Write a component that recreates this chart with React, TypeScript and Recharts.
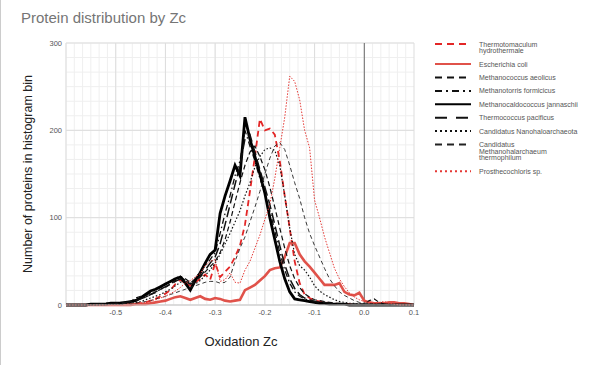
import {
  LineChart,
  Line,
  XAxis,
  YAxis,
  ReferenceLine,
} from 'recharts';

// histogram bins of Zc, step 0.01 from -0.60 to 0.10
const ZC_BINS = Array.from({ length: 71 }, (_, i) => Math.round((-0.6 + i * 0.01) * 100) / 100);

const X_TICKS = [-0.5, -0.4, -0.3, -0.2, -0.1, 0, 0.1];
const Y_TICKS = [0, 100, 200, 300];

// counts per bin (rows of 10 bins: -0.60, -0.50, ... , 0.00)
const thermotomaculum = [
  0, 0, 0, 0, 0, 0, 0, 0, 1, 1,
  1, 1, 1, 1, 2, 2, 3, 5, 7, 10,
  13, 17, 24, 29, 25, 22, 26, 30, 35, 29,
  48, 32, 38, 44, 55, 68, 92, 130, 170, 213,
  200, 202, 195, 165, 125, 88, 50, 25, 12, 8,
  5, 4, 3, 2, 2, 1, 1, 1, 0, 0,
  0, 0, 0, 0, 0, 0, 0, 0, 0, 0, 0,
];
const escherichia = [
  0, 0, 0, 0, 0, 0, 0, 0, 0, 0,
  0, 0, 0, 0, 1, 1, 1, 2, 3, 4,
  5, 7, 9, 10, 8, 6, 8, 10, 7, 6,
  8, 7, 5, 4, 5, 6, 17, 20, 23, 28,
  33, 40, 42, 43, 55, 71, 71, 58, 50, 44,
  37, 30, 23, 23, 23, 25, 15, 12, 11, 14,
  5, 3, 2, 2, 2, 3, 3, 2, 2, 1, 0,
];
const aeolicus = [
  0, 0, 0, 0, 0, 0, 1, 1, 2, 1,
  2, 3, 2, 4, 8, 10, 9, 12, 14, 18,
  20, 24, 28, 33, 30, 26, 28, 32, 38, 44,
  50, 60, 75, 95, 118, 140, 160, 175, 182, 170,
  155, 135, 112, 88, 65, 45, 30, 20, 13, 9,
  6, 5, 4, 3, 2, 2, 1, 1, 1, 1,
  1, 5, 7, 3, 1, 0, 0, 0, 0, 0, 0,
];
const formicicus = [
  0, 0, 0, 0, 0, 1, 1, 1, 2, 2,
  2, 3, 3, 4, 6, 8, 11, 14, 17, 20,
  23, 27, 31, 33, 28, 25, 30, 38, 45, 52,
  60, 82, 105, 125, 148, 165, 200, 182, 165, 145,
  128, 108, 85, 60, 40, 25, 15, 10, 7, 5,
  4, 3, 2, 2, 1, 1, 1, 0, 0, 0,
  0, 0, 0, 0, 0, 0, 0, 0, 0, 0, 0,
];
const jannaschii = [
  0, 0, 0, 0, 0, 1, 1, 1, 1, 2,
  2, 2, 3, 4, 5, 8, 12, 16, 18, 21,
  24, 27, 30, 32, 25, 17, 28, 37, 48, 58,
  63, 105, 125, 142, 160, 148, 215, 190, 170, 150,
  128, 100, 75, 50, 30, 15, 7, 6, 5, 4,
  3, 2, 2, 1, 1, 1, 1, 0, 0, 0,
  0, 0, 0, 0, 0, 0, 0, 0, 0, 0, 0,
];
const pacificus = [
  0, 0, 0, 0, 0, 0, 1, 1, 1, 1,
  2, 2, 3, 4, 5, 7, 9, 12, 15, 18,
  21, 24, 27, 30, 27, 24, 27, 33, 40, 48,
  55, 70, 92, 115, 138, 160, 190, 195, 175, 155,
  135, 115, 92, 68, 46, 30, 19, 12, 8, 6,
  4, 3, 3, 2, 2, 1, 1, 1, 0, 0,
  0, 0, 0, 0, 0, 0, 0, 0, 0, 0, 0,
];
const nanohaloarchaeota = [
  0, 0, 0, 0, 0, 0, 0, 0, 1, 1,
  1, 1, 2, 2, 3, 4, 6, 8, 10, 12,
  15, 18, 22, 26, 28, 25, 24, 28, 34, 40,
  48, 58, 70, 82, 95, 108, 125, 140, 158, 170,
  178, 180, 177, 160, 125, 88, 58, 45, 40, 32,
  22, 16, 12, 9, 6, 4, 3, 2, 2, 1,
  1, 1, 1, 0, 0, 0, 0, 0, 0, 0, 0,
];
const methanohalarchaeum = [
  0, 0, 0, 0, 0, 0, 0, 1, 0, 1,
  1, 1, 2, 1, 2, 3, 4, 5, 7, 8,
  10, 12, 14, 16, 18, 20, 22, 24, 26, 27,
  27, 25, 26, 32, 50, 65, 78, 95, 112, 130,
  150, 168, 182, 186, 178, 160, 140, 122, 100, 82,
  68, 55, 42, 30, 22, 15, 11, 8, 5, 3,
  2, 2, 1, 1, 1, 0, 0, 0, 0, 0, 0,
];
const prosthecochloris = [
  0, 0, 0, 0, 0, 0, 0, 0, 0, 0,
  0, 0, 0, 1, 1, 2, 3, 5, 6, 8,
  10, 13, 16, 20, 25, 28, 32, 36, 45, 50,
  52, 27, 29, 37, 26, 25, 40, 50, 65, 80,
  98, 115, 145, 180, 215, 262, 256, 235, 200, 180,
  120, 100, 78, 60, 42, 30, 21, 14, 9, 6,
  4, 3, 2, 3, 4, 2, 1, 0, 0, 0, 0,
];

const RED = '#e53935';

const SERIES = [
  { key: 'thermotomaculum', values: thermotomaculum, name: 'Thermotomaculum hydrothermale', lines: ['Thermotomaculum', 'hydrothermale'], color: '#e32626', width: 1.8, dash: '6 4', legendDash: '7 5' },
  { key: 'escherichia', values: escherichia, name: 'Escherichia coli', lines: ['Escherichia coli'], color: '#e0524a', width: 2.6, dash: undefined, legendDash: undefined },
  { key: 'aeolicus', values: aeolicus, name: 'Methanococcus aeolicus', lines: ['Methanococcus aeolicus'], color: '#111', width: 1.2, dash: '5 3', legendDash: '7 5' },
  { key: 'formicicus', values: formicicus, name: 'Methanotorris formicicus', lines: ['Methanotorris formicicus'], color: '#111', width: 1.3, dash: '6 3 1.5 3', legendDash: '7 4 2 4' },
  { key: 'jannaschii', values: jannaschii, name: 'Methanocaldococcus jannaschii', lines: ['Methanocaldococcus jannaschii'], color: '#000', width: 2.8, dash: undefined, legendDash: undefined },
  { key: 'pacificus', values: pacificus, name: 'Thermococcus pacificus', lines: ['Thermococcus pacificus'], color: '#111', width: 1.5, dash: '10 4', legendDash: '12 9' },
  { key: 'nanohaloarchaeota', values: nanohaloarchaeota, name: 'Candidatus Nanohaloarchaeota', lines: ['Candidatus Nanohaloarchaeota'], color: '#111', width: 1.2, dash: '1.5 2', legendDash: '2 3' },
  { key: 'methanohalarchaeum', values: methanohalarchaeum, name: 'Candidatus Methanohalarchaeum thermophilum', lines: ['Candidatus', 'Methanohalarchaeum', 'thermophilum'], color: '#222', width: 0.9, dash: '4 3', legendDash: '7 5' },
  { key: 'prosthecochloris', values: prosthecochloris, name: 'Prosthecochloris sp.', lines: ['Prosthecochloris sp.'], color: RED, width: 1, dash: '1.5 1.5', legendDash: '2 3' },
];

const data = ZC_BINS.map((zc, i) => {
  const row: Record<string, number> = { zc };
  SERIES.forEach((s) => {
    row[s.key] = s.values[i];
  });
  return row;
});

// sixths between the labelled ticks
const minorX = Array.from({ length: 43 }, (_, i) => -0.6 + (i * 0.1) / 6);
const minorY = Array.from({ length: 19 }, (_, i) => (i * 100) / 6);
const majorX = [-0.6, ...X_TICKS.filter((v) => v !== 0)];

const FONT = '"Liberation Sans", Arial, sans-serif';

function LegendBox() {
  let y = 44;
  const items = SERIES.map((s) => {
    const item = { s, y };
    y += 13.4 + 6.7 * (s.lines.length - 1);
    return item;
  });
  return (
    <svg width={600} height={365} style={{ position: 'absolute', left: 0, top: 0, pointerEvents: 'none' }}>
      {items.map(({ s, y }) => (
        <g key={s.key}>
          <line
            x1={434}
            x2={470}
            y1={y}
            y2={y}
            stroke={s.color}
            strokeWidth={2}
            strokeDasharray={s.legendDash}
          />
          {s.lines.map((t, j) => (
            <text key={j} x={478} y={y + 2.5 + j * 6.7} fontSize={7} fill="#555" fontFamily={FONT}>
              {t}
            </text>
          ))}
        </g>
      ))}
    </svg>
  );
}

export default function App() {
  return (
    <div
      style={{
        position: 'absolute',
        left: 0,
        top: 0,
        width: 600,
        height: 365,
        background: '#fff',
        fontFamily: FONT,
        borderLeft: '1px solid #ccc',
        boxSizing: 'border-box',
      }}
    >
      <div style={{ position: 'absolute', left: 20, top: 9, fontSize: 15, color: '#757575' }}>
        Protein distribution by Zc
      </div>
      <LineChart
        width={600}
        height={365}
        data={data}
        margin={{ top: 43, right: 186, bottom: 40, left: 46 }}
        style={{ position: 'absolute', left: -1, top: 0 }}
      >
        <XAxis
          dataKey="zc"
          type="number"
          domain={[-0.6, 0.1]}
          ticks={X_TICKS}
          tickFormatter={(v: number) => v.toFixed(1)}
          tick={{ fill: '#555', fontSize: 7.5, fontFamily: FONT }}
          tickSize={0}
          tickMargin={5}
          axisLine={{ stroke: '#ccc' }}
          height={20}
          allowDataOverflow
        />
        <YAxis
          type="number"
          domain={[0, 300]}
          ticks={Y_TICKS}
          tick={{ fill: '#555', fontSize: 7.5, fontFamily: FONT }}
          tickSize={0}
          tickMargin={4}
          axisLine={false}
          width={20}
        />
        {minorX.map((v) => (
          <ReferenceLine key={`mx${v}`} x={v} stroke="#efefef" strokeWidth={1} />
        ))}
        {minorY.map((v) => (
          <ReferenceLine key={`my${v}`} y={v} stroke="#efefef" strokeWidth={1} />
        ))}
        {majorX.map((v) => (
          <ReferenceLine key={`Mx${v}`} x={v} stroke="#dddddd" strokeWidth={1} />
        ))}
        {Y_TICKS.map((v) => (
          <ReferenceLine key={`My${v}`} y={v} stroke="#dddddd" strokeWidth={1} />
        ))}
        <ReferenceLine x={0} stroke="#666" strokeWidth={1} />
        {SERIES.map((s) => (
          <Line
            key={s.key}
            dataKey={s.key}
            name={s.name}
            type="linear"
            stroke={s.color}
            strokeWidth={s.width}
            strokeDasharray={s.dash}
            dot={false}
            activeDot={false}
            isAnimationActive={false}
          />
        ))}
      </LineChart>
      <div
        style={{
          position: 'absolute',
          left: 27,
          top: 174,
          transform: 'translate(-50%, -50%) rotate(-90deg)',
          whiteSpace: 'nowrap',
          fontSize: 12.5,
          color: '#222',
        }}
      >
        Number of proteins in histogram bin
      </div>
      <div
        style={{
          position: 'absolute',
          left: 240,
          top: 341,
          transform: 'translate(-50%, -50%)',
          whiteSpace: 'nowrap',
          fontSize: 13,
          color: '#222',
        }}
      >
        Oxidation Zc
      </div>
      <LegendBox />
    </div>
  );
}
